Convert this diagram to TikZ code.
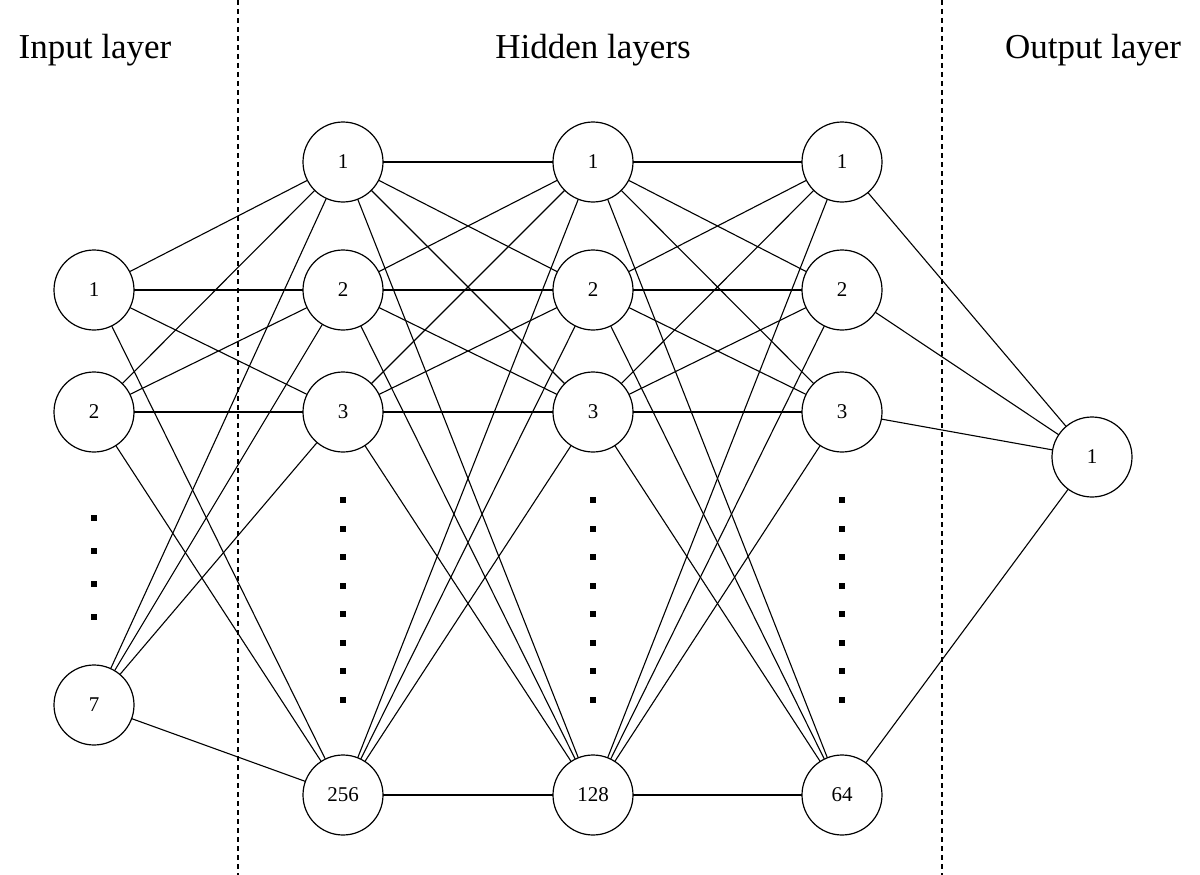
\documentclass[tikz,border=0pt]{standalone}
\usepackage{fontspec}
\setmainfont{Liberation Serif}
\begin{document}
\begin{tikzpicture}[x=1pt,y=-1pt,
  neuron/.style={circle,draw,line width=1.2pt,minimum size=80pt,inner sep=0pt,font=\fontsize{21}{24}\selectfont,fill=white},
  conn/.style={line width=1.1pt},
  title/.style={font=\fontsize{35}{40}\selectfont},
  sep/.style={dashed,line width=1.2pt,dash pattern=on 5pt off 4pt}]
\useasboundingbox (0,0) rectangle (1200,875);
\draw[sep] (238,0) -- (238,875);
\draw[sep] (942,0) -- (942,875);
\node[title] (t1) at (95,50) {Input layer};
\node[title] (t2) at (593,50) {Hidden layers};
\node[title] (t3) at (1093,50) {Output layer};
% positions
\foreach \n/\y in {1/290,2/412,7/705} \coordinate (i\n) at (94,\y);
\foreach \l/\x in {a/343,b/593,c/842}{
  \coordinate (\l1) at (\x,162);\coordinate (\l2) at (\x,290);
  \coordinate (\l3) at (\x,412);\coordinate (\l4) at (\x,795);}
\coordinate (o1) at (1092,457);
% connections
\foreach \s in {1,2,7}\foreach \t in {1,2,3,4} \draw[conn] (i\s) -- (a\t);
\foreach \s in {1,2,3,4}\foreach \t in {1,2,3,4}{\draw[conn] (a\s) -- (b\t);\draw[conn] (b\s) -- (c\t);}
\foreach \s in {1,2,3,4} \draw[conn] (c\s) -- (o1);
% nodes
\node[neuron] (I1) at (i1) {1};
\node[neuron] (I2) at (i2) {2};
\node[neuron] (I7) at (i7) {7};
\foreach \l in {a,b,c}{
  \node[neuron] (\l N1) at (\l1) {1};
  \node[neuron] (\l N2) at (\l2) {2};
  \node[neuron] (\l N3) at (\l3) {3};}
\node[neuron] (A4) at (a4) {256};
\node[neuron] (B4) at (b4) {128};
\node[neuron] (C4) at (c4) {64};
\node[neuron] (O1) at (o1) {1};
% dots
\foreach \y in {518,551,584,617} \fill (91,\y-3) rectangle ++(6,6);
\foreach \x in {343,593,842}\foreach \k in {0,...,7} \fill (\x-3,500+\k*28.5-3) rectangle ++(6,6);
\end{tikzpicture}
\end{document}
